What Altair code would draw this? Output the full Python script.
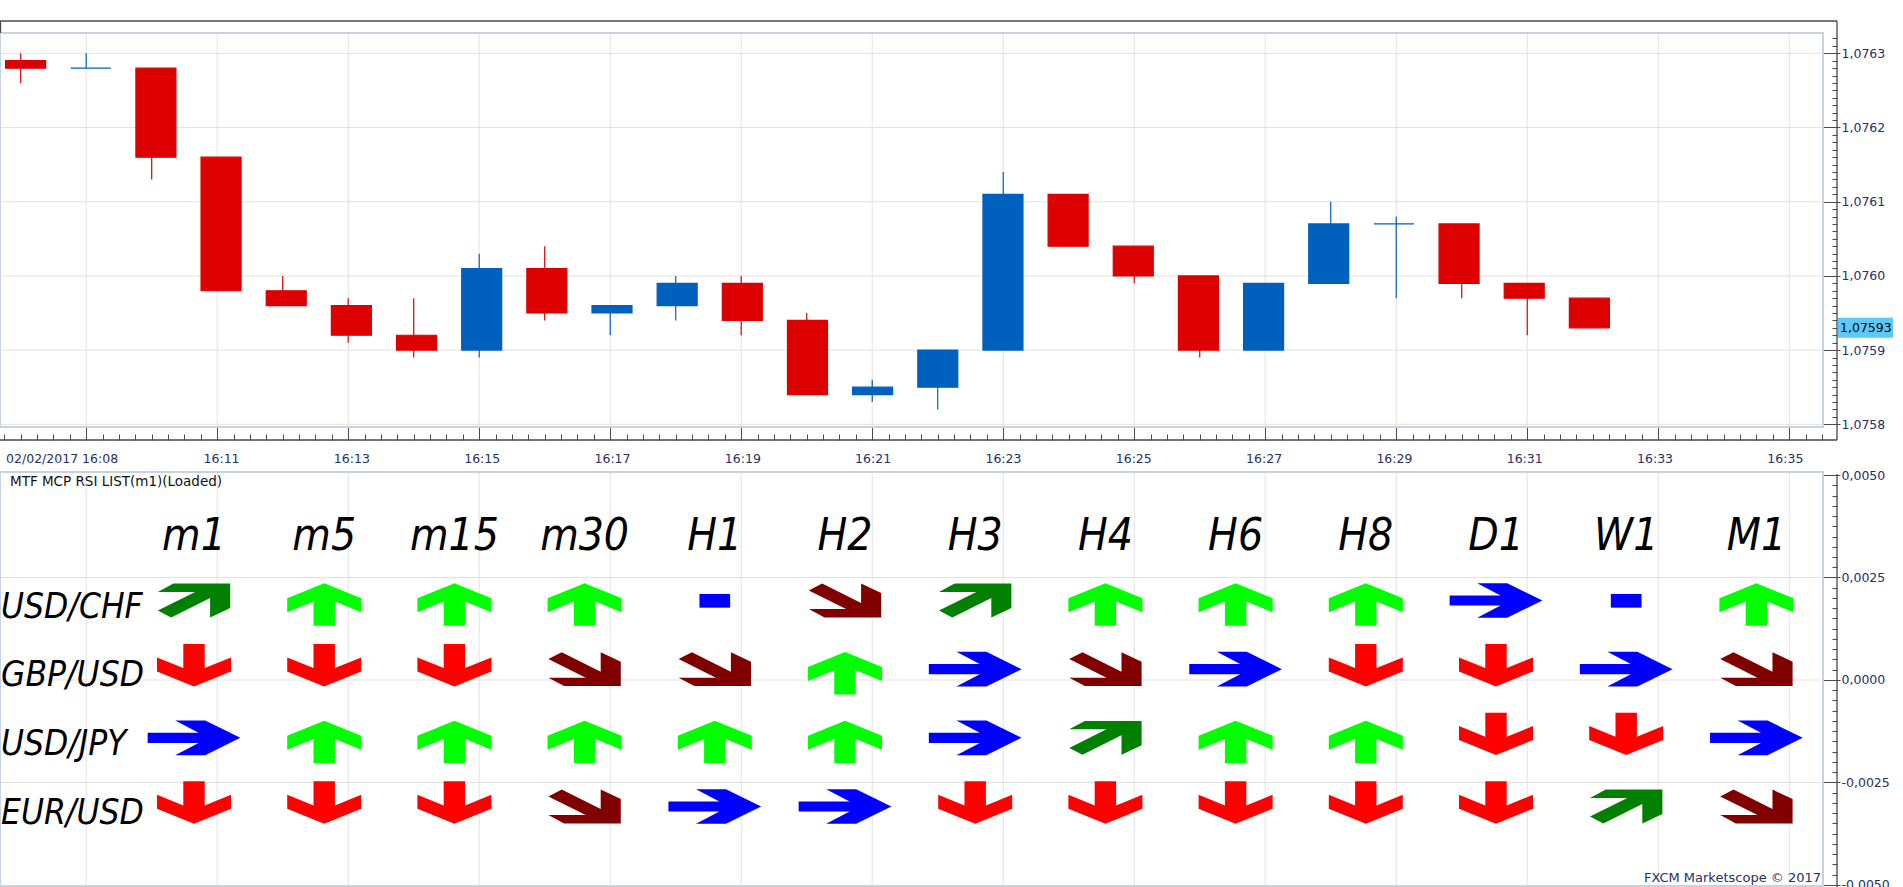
import altair as alt
import pandas as pd

# ---------------- candle data (minute after 16:00, OHLC) ----------------
minutes = [8, 9, 10, 11, 12, 13, 14, 15, 16, 17, 18, 19, 20,
           21, 22, 23, 24, 25, 26, 27, 28, 29, 30, 31, 32]
opens = [1.07629, 1.07628, 1.07628, 1.07616, 1.07598, 1.07596, 1.07592, 1.07590, 1.07601,
         1.07595, 1.07596, 1.07599, 1.07594, 1.07584, 1.07585, 1.07590, 1.07611, 1.07604,
         1.07600, 1.07590, 1.07599, 1.07607, 1.07607, 1.07599, 1.07597]
highs = [1.07630, 1.07630, 1.07628, 1.07616, 1.07600, 1.07597, 1.07597, 1.07603, 1.07604,
         1.07596, 1.07600, 1.07600, 1.07595, 1.07586, 1.07590, 1.07614, 1.07611, 1.07604,
         1.07600, 1.07599, 1.07610, 1.07608, 1.07607, 1.07599, 1.07597]
lows = [1.07626, 1.07628, 1.07613, 1.07598, 1.07596, 1.07591, 1.07589, 1.07589, 1.07594,
        1.07592, 1.07594, 1.07592, 1.07584, 1.07583, 1.07582, 1.07590, 1.07604, 1.07599,
        1.07589, 1.07590, 1.07599, 1.07597, 1.07597, 1.07592, 1.07593]
closes = [1.07628, 1.07628, 1.07616, 1.07598, 1.07596, 1.07592, 1.07590, 1.07601, 1.07595,
          1.07596, 1.07599, 1.07594, 1.07584, 1.07585, 1.07590, 1.07611, 1.07604, 1.07600,
          1.07590, 1.07599, 1.07607, 1.07607, 1.07599, 1.07597, 1.07593]
current_price = 1.07593

price_ticks = [1.0758, 1.0759, 1.0760, 1.0761, 1.0762, 1.0763]
indicator_ticks = [0.0050, 0.0025, 0.0, -0.0025, -0.0050]
indicator_grid = [0.0025, 0.0, -0.0025]
grid_minutes = [9, 11, 13, 15, 17, 19, 21, 23, 25, 27, 29, 31, 33, 35]
label_minutes = [8, 11, 13, 15, 17, 19, 21, 23, 25, 27, 29, 31, 33, 35]
date_label = "02/02/2017 16:08"
hour_prefix = "16:"

# ---------------- MTF RSI table ----------------
timeframes = ["m1", "m5", "m15", "m30", "H1", "H2", "H3", "H4", "H6", "H8", "D1", "W1", "M1"]
pairs = ["USD/CHF", "GBP/USD", "USD/JPY", "EUR/USD"]
sig_usdchf = ["upright", "up", "up", "up", "flat", "downright", "upright", "up", "up", "up", "right", "flat", "up"]
sig_gbpusd = ["down", "down", "down", "downright", "downright", "up", "right", "downright", "right", "down", "down", "right", "downright"]
sig_usdjpy = ["right", "up", "up", "up", "up", "up", "right", "upright", "up", "up", "down", "down", "right"]
sig_eurusd = ["down", "down", "down", "downright", "right", "right", "down", "down", "down", "down", "down", "upright", "downright"]

panel_title = "MTF MCP RSI LIST(m1)(Loaded)"
credit_text = "FXCM Marketscope \u00a9 2017"

# minor tick positions
quarter_minutes = [q / 4 for q in range(31, 143)]
price_minor = [round(1.0758 + i * 0.00001, 5) for i in range(53)]
indicator_minor = [round(-0.005 + i * 0.00025, 5) for i in range(41)]

# ---------------- styling / layout ----------------
W, H = 1903, 887
PLOT_R, AXIS_X = 1823, 1837
TOP_Y0, TOP_Y1, TIME_Y = 33, 427, 440
BOT_Y0, BOT_Y1, STRIP_Y = 472, 886, 21

DARK = "#4a4a4a"
NAVY = "#283063"
GRID = "#e2e2e2"
BORDER = "#c6d3e0"
RED = "#dc0000"
BLUE = "#0060be"
LABEL_FONT = "DejaVu Sans"
NARROW = "DejaVu Sans Condensed, DejaVu Sans, sans-serif"

GLYPHS = {
    "up": ("M0,-17.2L37,-2.2L37,11.8L10.7,1.1L10.7,25.2L-10.7,25.2L-10.7,1.1L-37,11.8L-37,-2.2Z", "#00ff00"),
    "down": ("M0,17.2L37,2.2L37,-11.8L10.7,-1.1L10.7,-25.2L-10.7,-25.2L-10.7,-1.1L-37,-11.8L-37,2.2Z", "#ff0000"),
    "upright": ("M36.2,-16.9L36.2,7.5L16.1,16.9L16.1,-2.5L-22.9,16.9L-36.2,10.1L1.1,-8.5L-36.2,-8.5L-20.5,-16.9Z", "#008000"),
    "downright": ("M36.2,16.9L36.2,-7.5L16.1,-16.9L16.1,2.5L-22.9,-16.9L-36.2,-10.1L1.1,8.5L-36.2,8.5L-20.5,16.9Z", "#800000"),
    "right": ("M-46.35,-5.07L4.6,-5.07L-18.8,-17.35L11.2,-17.35L46.35,0L11.2,17.35L-18.8,17.35L4.6,5.07L-46.35,5.07Z", "#0000ff"),
    "flat": ("M-15.35,-6.55L15.35,-6.55L15.35,7.15L-15.35,7.15Z", "#0000ff"),
}
TAG_SHAPE = "M-27.5,-10L27.5,-10L27.5,10L-27.5,10Z"

# ---------------- scales (each spans the whole canvas) ----------------
TS = alt.Scale(domain=[7.684, 36.7367], nice=False, zero=False)
PS = alt.Scale(domain=[1.07517642, 1.07637183], nice=False, zero=False)
VS = alt.Scale(domain=[-0.0050488, 0.0165854], nice=False, zero=False)
CS = alt.Scale(domain=[-1.49, 13.126], nice=False, zero=False)
RS = alt.Scale(domain=[-8.745, 4.172], nice=False, zero=False, reverse=True)


def tick_axis(orient, edge, values, size):
    full = H if orient == "bottom" else W
    return alt.Axis(orient=orient, offset=edge - full, values=values, title=None,
                    labels=False, domain=False, grid=False, ticks=True,
                    tickSize=size, tickColor=DARK, tickWidth=1)


def label_axis(orient, edge, values, expr, pad, **kw):
    full = H if orient == "bottom" else W
    return alt.Axis(orient=orient, offset=edge - full, values=values, title=None,
                    labels=True, domain=False, grid=False, ticks=False, tickSize=0,
                    labelPadding=pad, labelExpr=expr, labelColor=NAVY,
                    labelFont=LABEL_FONT, labelFontSize=12.5, labelOverlap=False, **kw)


comma = "replace(replace(format(datum.value, '.4f'), '.', ','), '\u2212', '-')"
time_expr = (f"datum.value == 8 ? '{date_label}' : "
             f"'{hour_prefix}' + format(datum.value, '02d')")

candles = pd.DataFrame({"t": minutes, "open": opens, "high": highs, "low": lows, "close": closes})
one = pd.DataFrame({"k": [0]})
grid_t = pd.DataFrame({"t": grid_minutes})
price_df = pd.DataFrame({"p": price_ticks})
ind_df = pd.DataFrame({"v": indicator_ticks})
ind_grid_df = pd.DataFrame({"v": indicator_grid})

rows = []
for r, sigs in enumerate([sig_usdchf, sig_gbpusd, sig_usdjpy, sig_eurusd]):
    for c, s in enumerate(sigs):
        rows.append({"col": c, "row": r, "sig": s})
table = pd.DataFrame(rows)
headers = pd.DataFrame({"col": list(range(len(timeframes))), "row": [-1] * len(timeframes), "tf": timeframes})
pair_df = pd.DataFrame({"row": list(range(len(pairs))), "pair": pairs})

is_up = alt.datum.close >= alt.datum.open
candle_color = alt.condition(is_up, alt.value(BLUE), alt.value(RED))

layers = []

# ---- grids ----
layers.append(alt.Chart(grid_t).mark_rule(color=GRID, strokeWidth=1).encode(
    x=alt.X("t:Q", scale=TS, axis=tick_axis("bottom", TOP_Y1, grid_minutes, 12)),
    y=alt.value(TOP_Y0 + 1), y2=alt.value(TOP_Y1 - 1)))
layers.append(alt.Chart(grid_t).mark_rule(color=GRID, strokeWidth=1).encode(
    x=alt.X("t:Q", scale=TS, axis=None),
    y=alt.value(BOT_Y0 + 1), y2=alt.value(BOT_Y1 - 1)))
layers.append(alt.Chart(price_df).mark_rule(color=GRID, strokeWidth=1).encode(
    y=alt.Y("p:Q", scale=PS, axis=tick_axis("right", PLOT_R, price_ticks, 17)),
    x=alt.value(1), x2=alt.value(PLOT_R - 1)))
layers.append(alt.Chart(ind_grid_df).mark_rule(color=GRID, strokeWidth=1).encode(
    y=alt.Y("v:Q", scale=VS, axis=None),
    x=alt.value(1), x2=alt.value(PLOT_R - 1)))

# ---- panel borders and frame lines ----
for y0, y1 in [(TOP_Y0, TOP_Y1), (BOT_Y0, BOT_Y1)]:
    layers.append(alt.Chart(one).mark_rect(fillOpacity=0, stroke=BORDER, strokeWidth=2).encode(
        x=alt.value(0), x2=alt.value(PLOT_R), y=alt.value(y0), y2=alt.value(y1)))
frame_lines = [
    dict(x=alt.value(0), x2=alt.value(AXIS_X), y=alt.value(STRIP_Y)),
    dict(x=alt.value(0.5), y=alt.value(STRIP_Y), y2=alt.value(TOP_Y0)),
    dict(x=alt.value(AXIS_X), y=alt.value(STRIP_Y), y2=alt.value(TIME_Y)),
    dict(x=alt.value(0), x2=alt.value(AXIS_X), y=alt.value(TIME_Y)),
    dict(x=alt.value(AXIS_X), y=alt.value(BOT_Y0 + 2), y2=alt.value(H)),
]
for enc in frame_lines:
    layers.append(alt.Chart(one).mark_rule(color=DARK, strokeWidth=1.3).encode(**enc))

# ---- candles ----
layers.append(alt.Chart(candles).mark_rule(strokeWidth=1.2).encode(
    x=alt.X("t:Q", scale=TS, axis=tick_axis("bottom", TIME_Y - 6, quarter_minutes, 6)),
    y=alt.Y("low:Q", scale=PS, axis=tick_axis("right", AXIS_X - 5, price_minor, 5)),
    y2="high:Q",
    color=candle_color))
layers.append(alt.Chart(candles).mark_bar(size=40, strokeWidth=1.2).encode(
    x=alt.X("t:Q", scale=TS, axis=label_axis("bottom", TIME_Y, label_minutes, time_expr, 12,
                                             labelFlush=30, labelFlushOffset=20)),
    y=alt.Y("open:Q", scale=PS, axis=label_axis("right", AXIS_X, price_ticks, comma, 4)),
    y2="close:Q",
    fill=candle_color, stroke=candle_color))

# ---- current price tag ----
tag = alt.Chart(pd.DataFrame({"p": [current_price]}))
layers.append(tag.mark_point(shape=TAG_SHAPE, size=4, filled=True, opacity=1, color="#5ec8f7").encode(
    x=alt.value(1865.5), y=alt.Y("p:Q", scale=PS, axis=None)))
layers.append(tag.transform_calculate(lbl="replace(format(datum.p, '.5f'), '.', ',')").mark_text(
    align="left", baseline="middle", font=LABEL_FONT, fontSize=12.5, color="#000000").encode(
    x=alt.value(AXIS_X + 3), y=alt.Y("p:Q", scale=PS, axis=None), text="lbl:N"))

# ---- indicator panel axes ----
layers.append(alt.Chart(ind_df).mark_point(opacity=0).encode(
    x=alt.value(0), y=alt.Y("v:Q", scale=VS, axis=tick_axis("right", PLOT_R, indicator_ticks, 17))))
layers.append(alt.Chart(ind_df).mark_point(opacity=0).encode(
    x=alt.value(0), y=alt.Y("v:Q", scale=VS, axis=tick_axis("right", AXIS_X - 5, indicator_minor, 5))))
layers.append(alt.Chart(ind_df).mark_point(opacity=0).encode(
    x=alt.value(0), y=alt.Y("v:Q", scale=VS, axis=label_axis("right", AXIS_X, indicator_ticks, comma, 4))))

# ---- table ----
XT = alt.X("col:Q", scale=CS, axis=None)
YT = alt.Y("row:Q", scale=RS, axis=None)
layers.append(alt.Chart(headers).mark_text(
    font=NARROW, fontStyle="italic", fontSize=44, align="center", baseline="alphabetic",
    dy=18, color="#000000").encode(x=XT, y=YT, text="tf:N"))
layers.append(alt.Chart(pair_df).mark_text(
    font=NARROW, fontStyle="italic", fontSize=35, align="left", baseline="alphabetic",
    dy=17, color="#000000").encode(x=alt.value(1), y=YT, text="pair:N"))
for name, (path, col) in GLYPHS.items():
    layers.append(alt.Chart(table).transform_filter(alt.datum.sig == name).mark_point(
        shape=path, size=4, filled=True, opacity=1, color=col, strokeWidth=0).encode(x=XT, y=YT))

# ---- texts ----
layers.append(alt.Chart(pd.DataFrame({"s": [panel_title]})).mark_text(
    align="left", baseline="middle", font=LABEL_FONT, fontSize=13.5, color="#111111").encode(
    x=alt.value(10), y=alt.value(482), text="s:N"))
layers.append(alt.Chart(pd.DataFrame({"s": [credit_text]})).mark_text(
    align="right", baseline="middle", font=LABEL_FONT, fontSize=13, color=NAVY).encode(
    x=alt.value(PLOT_R - 2), y=alt.value(878), text="s:N"))

chart = alt.layer(*layers).resolve_scale(x="independent", y="independent").properties(
    width=W, height=H, padding=0, background="white",
    autosize=alt.AutoSizeParams(type="none")).configure_view(stroke="transparent")

chart.save("out.html", embed_options={"renderer": "svg", "actions": False})
